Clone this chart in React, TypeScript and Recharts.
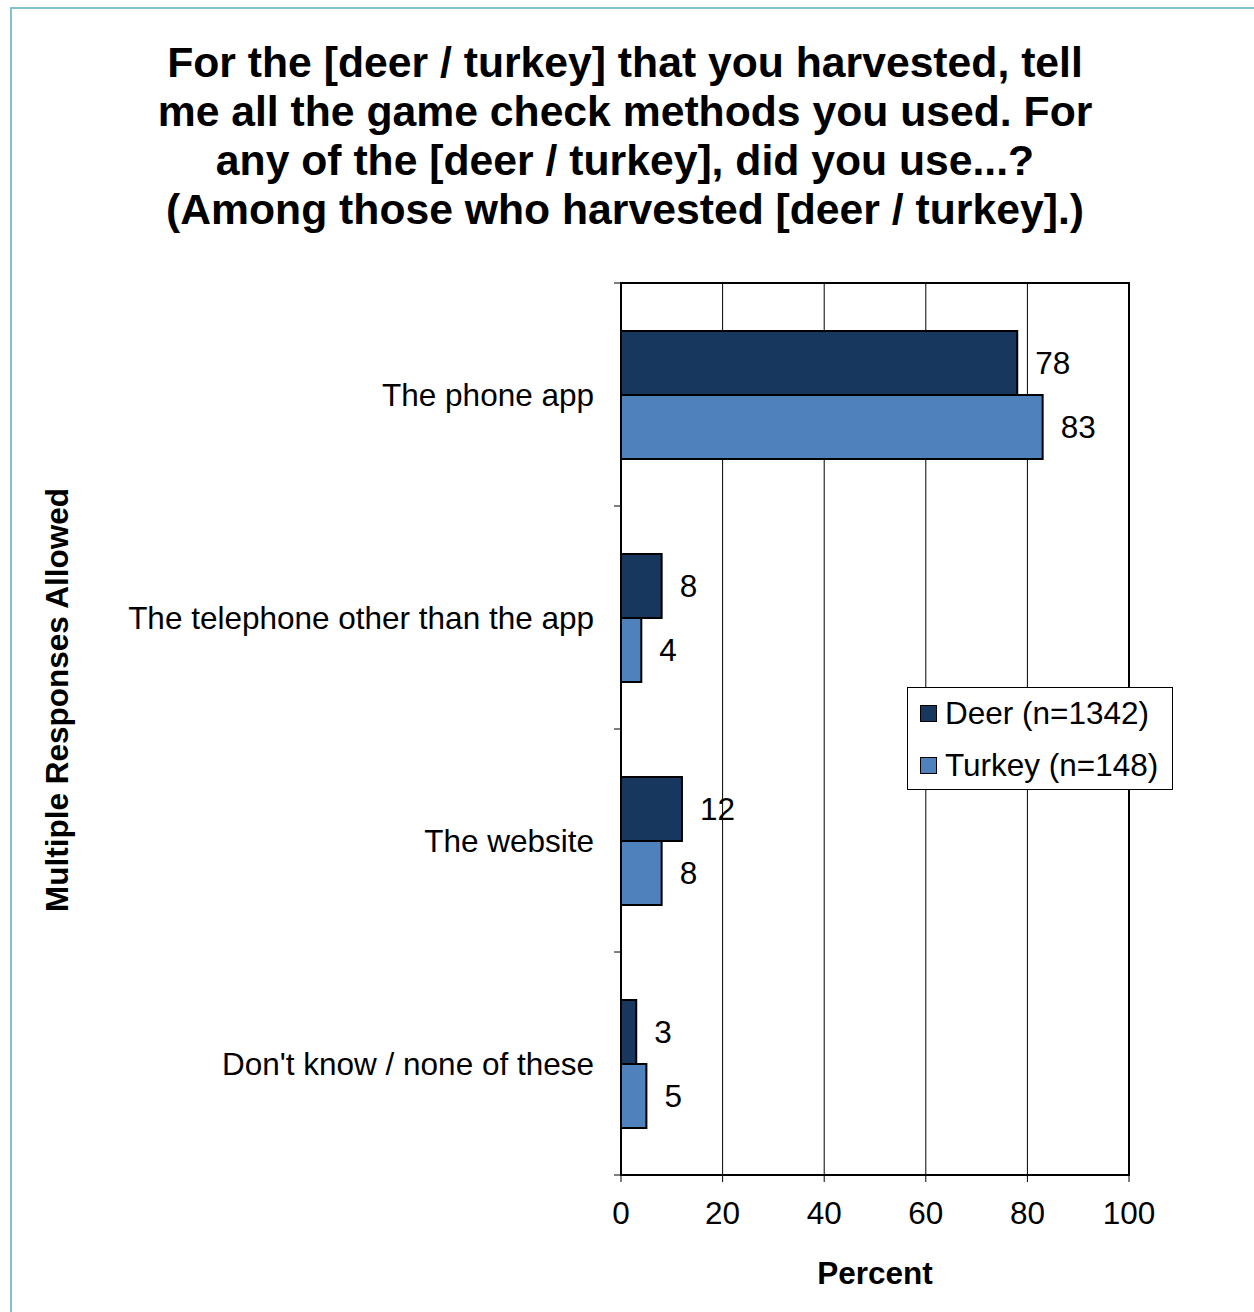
import React from "react";
import {
  BarChart,
  Bar,
  XAxis,
  YAxis,
  CartesianGrid,
  Legend,
  LabelList,
  ReferenceArea,
} from "recharts";

const categories = [
  "The phone app",
  "The telephone other than the app",
  "The website",
  "Don't know / none of these",
];
const deerValues = [78, 8, 12, 3];
const turkeyValues = [83, 4, 8, 5];
const xTicks = [0, 20, 40, 60, 80, 100];

const seriesNames = {
  deer: "Deer (n=1342)",
  turkey: "Turkey (n=148)",
};

const DEER_COLOR = "#17375E";
const TURKEY_COLOR = "#4F81BD";
const FONT = "Arial, 'Liberation Sans', sans-serif";

// plot box
const PLOT_LEFT = 621;
const PLOT_TOP = 283;
const PLOT_RIGHT = 1129;
const PLOT_BOTTOM = 1175;
const BAND = (PLOT_BOTTOM - PLOT_TOP) / categories.length;

const data = categories.map((name, i) => ({
  name,
  deer: deerValues[i],
  turkey: turkeyValues[i],
}));

// category label plus the boundary tick marks above (and below the last) band
const CategoryTick = (props: any) => {
  const { x, y, payload, index } = props;
  const last = index === categories.length - 1;
  return (
    <g>
      <text
        x={x + 1}
        y={y}
        dy="0.35em"
        textAnchor="end"
        fontSize={31.5}
        fill="#000"
      >
        {payload.value}
      </text>
      <line
        x1={PLOT_LEFT - 7}
        x2={PLOT_LEFT}
        y1={y - BAND / 2}
        y2={y - BAND / 2}
        stroke="#000"
        strokeWidth={1}
      />
      {last && (
        <line
          x1={PLOT_LEFT - 7}
          x2={PLOT_LEFT}
          y1={y + BAND / 2}
          y2={y + BAND / 2}
          stroke="#000"
          strokeWidth={1}
        />
      )}
    </g>
  );
};

const LegendBox = () => (
  <div
    style={{
      width: 264,
      height: 101,
      border: "1px solid #000",
      background: "#fff",
      fontSize: 31.5,
      color: "#000",
      boxSizing: "content-box",
    }}
  >
    {[
      { label: seriesNames.deer, color: DEER_COLOR },
      { label: seriesNames.turkey, color: TURKEY_COLOR },
    ].map((item, i) => (
      <div
        key={item.label}
        style={{
          position: "absolute",
          left: 13,
          top: 8 + i * 52,
          height: 36,
          display: "flex",
          alignItems: "center",
          whiteSpace: "nowrap",
        }}
      >
        <span
          style={{
            display: "inline-block",
            width: 15,
            height: 15,
            background: item.color,
            border: "1.5px solid #000",
            marginRight: 8,
          }}
        />
        <span>{item.label}</span>
      </div>
    ))}
  </div>
);

const App: React.FC = () => {
  return (
    <div
      style={{
        position: "absolute",
        left: 0,
        top: 0,
        width: 1254,
        height: 1312,
        background: "#fff",
        fontFamily: FONT,
        overflow: "hidden",
      }}
    >
      {/* outer frame */}
      <div
        style={{
          position: "absolute",
          left: 10,
          top: 7,
          width: 1300,
          height: 1400,
          borderLeft: "2px solid #86BFD0",
          borderTop: "2px solid #86BFD0",
        }}
      />

      {/* Title */}
      <div
        style={{
          position: "absolute",
          left: 0,
          top: 38,
          width: 1250,
          textAlign: "center",
          fontWeight: 700,
          fontSize: 42.7,
          lineHeight: "49px",
          color: "#000",
        }}
      >
        For the [deer / turkey] that you harvested, tell
        <br />
        me all the game check methods you used. For
        <br />
        any of the [deer / turkey], did you use...?
        <br />
        (Among those who harvested [deer / turkey].)
      </div>

      {/* Vertical axis title */}
      <div
        style={{
          position: "absolute",
          left: 57,
          top: 700,
          transform: "translate(-50%, -50%) rotate(-90deg)",
          whiteSpace: "nowrap",
          fontWeight: 700,
          fontSize: 31.5,
          lineHeight: "32px",
          color: "#000",
        }}
      >
        Multiple Responses Allowed
      </div>

      <div style={{ position: "absolute", left: 0, top: 0 }}>
        <BarChart
          width={1254}
          height={1312}
          data={data}
          layout="vertical"
          margin={{ top: PLOT_TOP, right: 1254 - PLOT_RIGHT, bottom: 0, left: 21 }}
          barGap={0}
          barSize={64}
        >
          <CartesianGrid
            horizontal={false}
            vertical={true}
            stroke="#000"
            strokeWidth={1}
          />
          <ReferenceArea
            x1={0}
            x2={100}
            fill="none"
            fillOpacity={0}
            stroke="#000"
            strokeWidth={2}
            ifOverflow="visible"
          />
          <XAxis
            type="number"
            domain={[0, 100]}
            ticks={xTicks}
            height={1312 - PLOT_BOTTOM}
            tickSize={7}
            tickMargin={20}
            axisLine={{ stroke: "#000", strokeWidth: 2 }}
            tickLine={{ stroke: "#000" }}
            tick={{ fill: "#000", fontSize: 31.5 }}
            label={{
              value: "Percent",
              position: "insideBottom",
              offset: 28,
              style: { fill: "#000", fontSize: 31.5, fontWeight: 700 },
            }}
          />
          <YAxis
            type="category"
            dataKey="name"
            width={PLOT_LEFT - 21}
            tickSize={7}
            tickMargin={21}
            tickLine={false}
            axisLine={{ stroke: "#000", strokeWidth: 2 }}
            tick={<CategoryTick />}
            interval={0}
          />
          <Legend
            layout="vertical"
            align="center"
            verticalAlign="middle"
            wrapperStyle={{ left: 907, top: 687, width: 266, height: 103 }}
            content={() => <LegendBox />}
          />
          <Bar
            dataKey="deer"
            name={seriesNames.deer}
            fill={DEER_COLOR}
            stroke="#000"
            strokeWidth={2}
            isAnimationActive={false}
          >
            <LabelList
              dataKey="deer"
              position="right"
              offset={18}
              fill="#000"
              fontSize={31.5}
            />
          </Bar>
          <Bar
            dataKey="turkey"
            name={seriesNames.turkey}
            fill={TURKEY_COLOR}
            stroke="#000"
            strokeWidth={2}
            isAnimationActive={false}
          >
            <LabelList
              dataKey="turkey"
              position="right"
              offset={18}
              fill="#000"
              fontSize={31.5}
            />
          </Bar>
        </BarChart>
      </div>
    </div>
  );
};

export default App;
